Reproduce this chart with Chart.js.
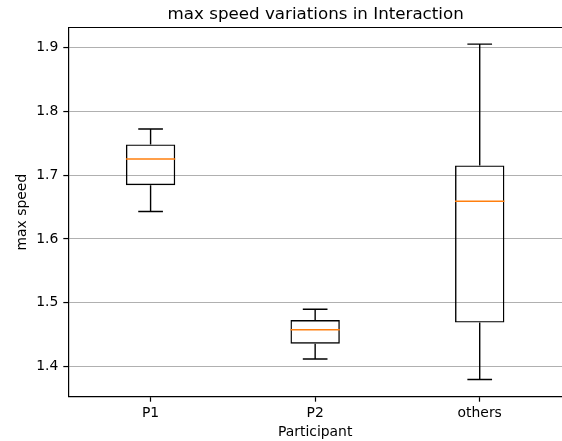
<!DOCTYPE html>
<html>
<head>
<meta charset="utf-8">
<script src="https://cdn.jsdelivr.net/npm/chart.js"></script>
<style>
  html, body { margin: 0; padding: 0; background: #fff; }
  #wrap { width: 562px; height: 441px; }
</style>
</head>
<body>
<div id="wrap"><canvas id="myChart"></canvas></div>
<script>
// box plot summary per participant
const participants = ['P1', 'P2', 'others'];
const whiskerLow = [1.643, 1.412, 1.380];
const q1 = [1.684, 1.436, 1.469];
const median = [1.725, 1.458, 1.659];
const q3 = [1.748, 1.473, 1.715];
const whiskerHigh = [1.772, 1.490, 1.905];
const yTicks = [1.4, 1.5, 1.6, 1.7, 1.8, 1.9];

const FONT = 'DejaVu Sans';
Chart.defaults.font.family = FONT;
Chart.defaults.color = '#000';

// whiskers, caps, medians, top frame and the title
const boxExtras = {
  id: 'boxExtras',
  afterDatasetsDraw(chart) {
    const ctx = chart.ctx;
    const x = chart.scales.x, y = chart.scales.y;
    const meta = chart.getDatasetMeta(0);
    const a = chart.chartArea;
    ctx.save();
    participants.forEach((p, i) => {
      const cx = x.getPixelForValue(i);
      const half = meta.data[i].width / 2;
      const cap = half / 2;
      const yHi = y.getPixelForValue(whiskerHigh[i]);
      const yLo = y.getPixelForValue(whiskerLow[i]);
      ctx.strokeStyle = '#000';
      ctx.lineWidth = 1.4;
      ctx.beginPath();
      ctx.moveTo(cx, y.getPixelForValue(q3[i]));
      ctx.lineTo(cx, yHi);
      ctx.moveTo(cx - cap, yHi);
      ctx.lineTo(cx + cap, yHi);
      ctx.moveTo(cx, y.getPixelForValue(q1[i]));
      ctx.lineTo(cx, yLo);
      ctx.moveTo(cx - cap, yLo);
      ctx.lineTo(cx + cap, yLo);
      ctx.stroke();
      const yMed = y.getPixelForValue(median[i]);
      ctx.strokeStyle = '#ff7f0e';
      ctx.lineWidth = 1.5;
      ctx.beginPath();
      ctx.moveTo(cx - half, yMed);
      ctx.lineTo(cx + half, yMed);
      ctx.stroke();
    });
    // top spine; the right spine falls just outside the cropped picture
    ctx.strokeStyle = '#000';
    ctx.lineWidth = 1.2;
    ctx.beginPath();
    ctx.moveTo(a.left, a.top);
    ctx.lineTo(a.right, a.top);
    ctx.stroke();
    ctx.fillStyle = '#000';
    ctx.font = '16.7px "' + FONT + '"';
    ctx.textAlign = 'center';
    ctx.textBaseline = 'alphabetic';
    ctx.fillText('max speed variations in Interaction', (a.left + a.right) / 2 + 0.5, 19);
    ctx.restore();
  }
};

new Chart(document.getElementById('myChart'), {
  type: 'bar',
  data: {
    labels: participants,
    datasets: [{
      label: 'max speed',
      data: participants.map((p, i) => [q1[i], q3[i]]),
      backgroundColor: 'rgba(0,0,0,0)',
      borderColor: '#000',
      borderWidth: 1.4,
      borderSkipped: false,
      barPercentage: 0.3,
      categoryPercentage: 1
    }]
  },
  options: {
    responsive: true,
    maintainAspectRatio: false,
    animation: false,
    layout: { padding: { top: 27.5, right: 0, left: 0, bottom: 0 } },
    plugins: {
      legend: { display: false },
      tooltip: { enabled: false },
      title: { display: false }
    },
    scales: {
      x: {
        offset: true,
        grid: { drawOnChartArea: false, offset: false, tickLength: 5, tickColor: '#000', tickWidth: 1.2 },
        border: { color: '#000', width: 1.2 },
        ticks: { font: { size: 13.9 }, padding: 3, maxRotation: 0 },
        title: { display: true, text: 'Participant', font: { size: 13.9 }, padding: { top: 0, bottom: 0 } },
        afterFit(scale) { scale.height = 44.3; }
      },
      y: {
        min: 1.353,
        max: 1.931,
        afterBuildTicks(scale) { scale.ticks = yTicks.map(v => ({ value: v })); },
        grid: { color: '#b0b0b0', lineWidth: 1.1, tickLength: 5, tickColor: '#000', tickWidth: 1.2 },
        border: { color: '#000', width: 1.2 },
        ticks: { font: { size: 13.9 }, padding: 5, callback: v => v.toFixed(1) },
        title: { display: true, text: 'max speed', font: { size: 13.9 }, padding: { top: 14.5, bottom: 0 } },
        afterFit(scale) { scale.width = 68.3; }
      }
    }
  },
  plugins: [boxExtras]
});
</script>
</body>
</html>
